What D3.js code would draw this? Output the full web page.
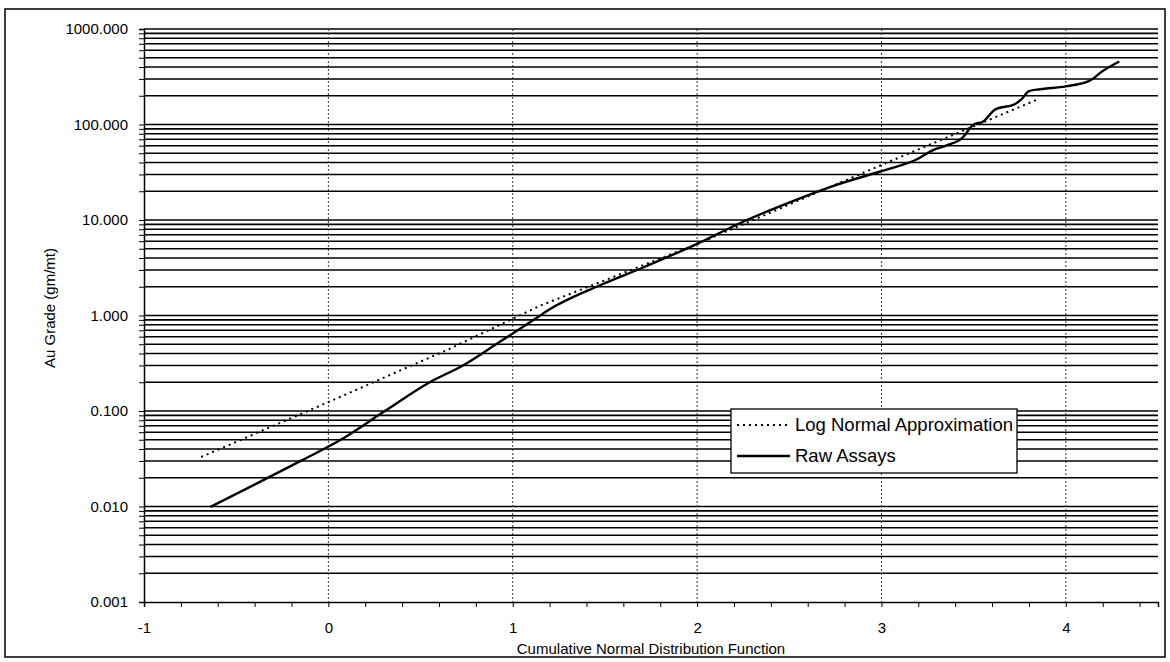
<!DOCTYPE html>
<html>
<head>
<meta charset="utf-8">
<script src="https://cdn.jsdelivr.net/npm/d3@7"></script>
<style>
  body { margin: 0; background: #fff; }
  svg text { font-family: "Liberation Sans", Arial, sans-serif; fill: #000; }
</style>
</head>
<body>
<div id="chart"></div>
<script>
// Raw assays (cumulative normal value, Au grade gm/mt)
const rawX = [-0.64, -0.15, 0.06, 0.30, 0.55, 0.73, 0.93, 1.11, 1.19, 1.47, 1.71, 1.98, 2.27, 2.52, 2.74, 2.99, 3.10, 3.19, 3.28, 3.35, 3.44, 3.50, 3.55, 3.62, 3.72, 3.76, 3.80, 3.86, 4.00, 4.13, 4.20, 4.29];
const rawY = [0.0099, 0.030, 0.049, 0.098, 0.20, 0.30, 0.53, 0.89, 1.13, 2.06, 3.2, 5.4, 10.0, 15.8, 22.8, 32, 37, 43, 54, 60, 73, 100, 107, 145, 162, 184, 224, 234, 251, 288, 363, 457];

// Log normal approximation
const lnX = [-0.69, 0.0, 0.66, 1.15, 2.0, 2.99, 3.85];
const lnY = [0.033, 0.124, 0.45, 1.27, 5.6, 37, 184];

const xTicks = [-1, 0, 1, 2, 3, 4];
const yDecades = [0.001, 0.01, 0.1, 1, 10, 100, 1000];

const W = 1170, H = 662;
const svg = d3.select("#chart").append("svg")
    .attr("width", W)
    .attr("height", H);

// outer frame
svg.append("rect")
    .attr("x", 5).attr("y", 9)
    .attr("width", 1160).attr("height", 648)
    .attr("fill", "#fff")
    .attr("stroke", "#000")
    .attr("stroke-width", 1.5);

const x = d3.scaleLinear().domain([-1, 4.5]).range([144, 1158]);
const y = d3.scaleLog().domain([0.001, 1000]).range([602, 29]);

// every 1..9 value per decade
const gridVals = [];
yDecades.slice(0, -1).forEach(d => {
    for (let k = 1; k <= 9; k++) gridVals.push(+(d * k).toPrecision(3));
});
gridVals.push(1000);

// horizontal grid
svg.append("g").selectAll("line")
    .data(gridVals.filter(v => v > 0.001))
    .enter().append("line")
    .attr("x1", x(-1)).attr("x2", x(4.5))
    .attr("y1", d => y(d)).attr("y2", d => y(d))
    .attr("stroke", "#000")
    .attr("stroke-width", 1.6);

// vertical dotted grid
svg.append("g").selectAll("line")
    .data(xTicks.filter(v => v > -1))
    .enter().append("line")
    .attr("x1", d => x(d)).attr("x2", d => x(d))
    .attr("y1", y(1000)).attr("y2", y(0.001))
    .attr("stroke", "#333")
    .attr("stroke-width", 1)
    .attr("stroke-dasharray", "2,2");

// y axis
const fmt = d3.format(".3f");
const yAxis = svg.append("g")
    .attr("transform", `translate(${x(-1)},0)`)
    .call(d3.axisLeft(y)
        .tickValues(gridVals)
        .tickSize(5)
        .tickPadding(11)
        .tickFormat(d => yDecades.includes(d) ? fmt(d) : ""));
yAxis.select(".domain").attr("stroke", "#000").attr("stroke-width", 1.5);
yAxis.selectAll("line").attr("stroke", "#000");
yAxis.selectAll("text").style("font-size", "15px");

// x axis
const xMinor = d3.range(-1, 4.51, 0.2).map(v => +v.toFixed(1));
const xAxis = svg.append("g")
    .attr("transform", `translate(0,${y(0.001)})`)
    .call(d3.axisBottom(x)
        .tickValues(xMinor)
        .tickSize(5)
        .tickPadding(15)
        .tickFormat(d => xTicks.includes(d) ? d : ""));
xAxis.select(".domain").attr("stroke", "#000").attr("stroke-width", 1.5);
xAxis.selectAll("line").attr("stroke", "#000");
xAxis.selectAll("text").style("font-size", "15px");

// axis titles
svg.append("text")
    .attr("x", 651).attr("y", 654)
    .attr("text-anchor", "middle")
    .style("font-size", "15px")
    .text("Cumulative Normal Distribution Function");

svg.append("text")
    .attr("transform", "translate(55,308) rotate(-90)")
    .attr("text-anchor", "middle")
    .style("font-size", "15px")
    .text("Au Grade (gm/mt)");

// lines
const line = d3.line().x(d => x(d[0])).y(d => y(d[1]));

svg.append("path")
    .datum(d3.zip(lnX, lnY))
    .attr("d", line)
    .attr("fill", "none")
    .attr("stroke", "#000")
    .attr("stroke-width", 2)
    .attr("stroke-dasharray", "2,4");

svg.append("path")
    .datum(d3.zip(rawX, rawY))
    .attr("d", line.curve(d3.curveMonotoneX))
    .attr("fill", "none")
    .attr("stroke", "#000")
    .attr("stroke-width", 2.4)
    .attr("stroke-linejoin", "round");

// legend
const legend = svg.append("g").attr("transform", "translate(731,409)");
legend.append("rect")
    .attr("width", 286).attr("height", 64)
    .attr("fill", "#fff")
    .attr("stroke", "#000")
    .attr("stroke-width", 1.3);

const items = [
    { name: "Log Normal Approximation", dash: "2,4", w: 2 },
    { name: "Raw Assays", dash: null, w: 2.4 }
];
items.forEach((d, i) => {
    const g = legend.append("g").attr("transform", `translate(0,${16 + i * 31})`);
    g.append("line")
        .attr("x1", 6).attr("x2", 59)
        .attr("stroke", "#000")
        .attr("stroke-width", d.w)
        .attr("stroke-dasharray", d.dash);
    g.append("text")
        .attr("x", 64).attr("y", 6)
        .style("font-size", "18.5px")
        .text(d.name);
});
</script>
</body>
</html>
